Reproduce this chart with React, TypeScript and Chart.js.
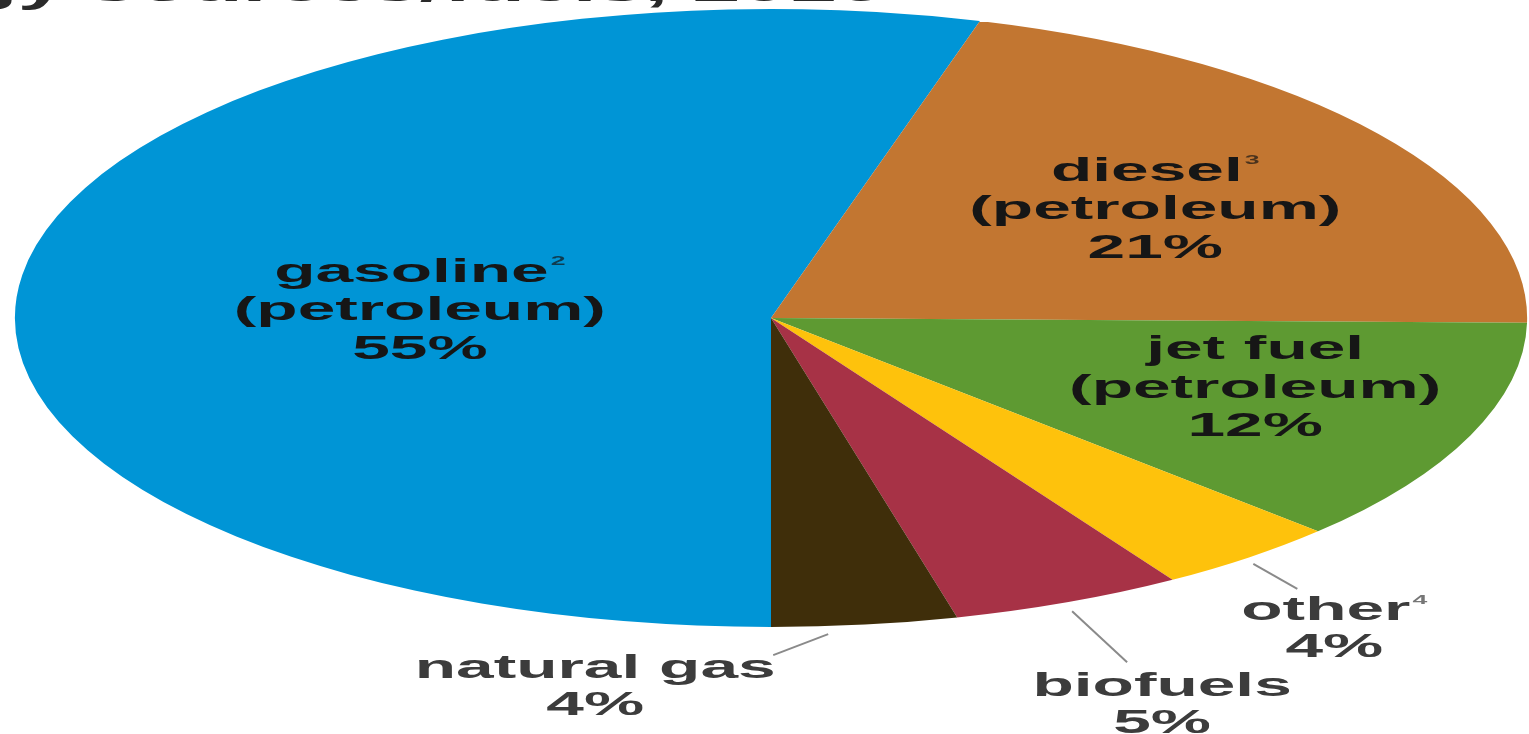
import React, { useEffect, useRef } from 'react';
import { Chart, registerables } from 'chart.js';

Chart.register(...registerables);

// ---------- data ----------
const categories = ['gasoline', 'diesel', 'jet fuel', 'other', 'biofuels', 'natural gas'];
const sharePercent = [55, 21, 12, 4, 5, 4];
const subLabels = ['(petroleum)', '(petroleum)', '(petroleum)', '', '', ''];
const footnoteMarks = ['2', '3', '', '4', '', ''];
const sliceColors = ['#0095D6', '#C27631', '#5E9A32', '#FEC20C', '#A73246', '#3F2E0A'];
const titleText = 'U.S. transportation energy sources/fuels, 2016';

// ---------- layout / style ----------
const W = 1529;
const H = 734;
const SX = 2.447; // horizontal stretch of the pie (ellipse)
const TEXT_SX = 2.05; // horizontal stretch of the text
const FONT = '"Liberation Sans", Arial, sans-serif';
const INSIDE_COLOR = '#161616';
const OUTSIDE_COLOR = '#3c3c3c';
const LEADER_COLOR = '#8a8a8a';
const LINE_GAP = 38.5;

// inside labels: radial factor k, angle nudge da (deg)
const insideLayout: Record<number, { k: number; da: number }> = {
  0: { k: 0.465, da: -5.2 },
  1: { k: 0.617, da: 2.0 },
  2: { k: 0.68, da: -2.6 },
};
// outside labels: leader start (k, da), leader end offset, text offset (first line centre)
const outsideLayout: Record<number, { k: number; da: number; end: [number, number]; text: [number, number] }> = {
  3: { k: 1.02, da: 0.5, end: [44, 25], text: [81, 47] },
  4: { k: 1.029, da: 0.4, end: [55, 51], text: [90, 76] },
  5: { k: 1.026, da: 2.9, end: [-55, 21], text: [-233, 35] },
};

function drawLabelLine(
  ctx: CanvasRenderingContext2D,
  text: string,
  sup: string,
  x: number,
  y: number,
  color: string
) {
  ctx.save();
  ctx.translate(x, y);
  ctx.scale(TEXT_SX, 1);
  ctx.textBaseline = 'middle';
  ctx.textAlign = 'left';
  ctx.font = `bold 33px ${FONT}`;
  const w = ctx.measureText(text).width;
  ctx.font = `bold 13px ${FONT}`;
  const ws = sup ? ctx.measureText(sup).width + 1 : 0;
  const x0 = -(w + ws) / 2;
  ctx.fillStyle = color;
  ctx.font = `bold 33px ${FONT}`;
  ctx.fillText(text, x0, 0);
  if (sup) {
    ctx.globalAlpha = 0.7;
    ctx.font = `bold 13px ${FONT}`;
    ctx.fillText(sup, x0 + w + 1, -11);
  }
  ctx.restore();
}

const ellipsePlugin = {
  id: 'ellipse',
  beforeDatasetsDraw(chart: any) {
    const { ctx, chartArea } = chart;
    const cx = (chartArea.left + chartArea.right) / 2;
    const cy = (chartArea.top + chartArea.bottom) / 2;
    ctx.save();
    ctx.translate(cx, cy);
    ctx.scale(SX, 1);
    ctx.translate(-cx, -cy);
  },
  afterDatasetsDraw(chart: any) {
    chart.ctx.restore();
  },
};

const labelPlugin = {
  id: 'sliceLabels',
  afterDraw(chart: any) {
    const { ctx } = chart;
    const meta = chart.getDatasetMeta(0);
    meta.data.forEach((arc: any, i: number) => {
      const p = arc.getProps(['x', 'y', 'startAngle', 'endAngle', 'outerRadius'], true);
      const mid = (p.startAngle + p.endAngle) / 2;
      const pct = `${sharePercent[i]}%`;
      if (insideLayout[i]) {
        const L = insideLayout[i];
        const a = mid + (L.da * Math.PI) / 180;
        const r = p.outerRadius * L.k;
        const x = p.x + Math.cos(a) * r * SX;
        const y = p.y + Math.sin(a) * r;
        drawLabelLine(ctx, categories[i], footnoteMarks[i], x, y - LINE_GAP, INSIDE_COLOR);
        drawLabelLine(ctx, subLabels[i], '', x, y, INSIDE_COLOR);
        drawLabelLine(ctx, pct, '', x, y + LINE_GAP, INSIDE_COLOR);
      } else if (outsideLayout[i]) {
        const L = outsideLayout[i];
        const a = mid + (L.da * Math.PI) / 180;
        const r = p.outerRadius * L.k;
        const sx = p.x + Math.cos(a) * r * SX;
        const sy = p.y + Math.sin(a) * r;
        ctx.save();
        ctx.strokeStyle = LEADER_COLOR;
        ctx.lineWidth = 2;
        ctx.beginPath();
        ctx.moveTo(sx, sy);
        ctx.lineTo(sx + L.end[0], sy + L.end[1]);
        ctx.stroke();
        ctx.restore();
        const tx = sx + L.text[0];
        const ty = sy + L.text[1];
        drawLabelLine(ctx, categories[i], footnoteMarks[i], tx, ty, OUTSIDE_COLOR);
        drawLabelLine(ctx, pct, '', tx, ty + 37, OUTSIDE_COLOR);
      }
    });

    // partially visible title at the very top
    ctx.save();
    ctx.translate(884, 1);
    ctx.scale(TEXT_SX, 1);
    ctx.font = `bold 42px ${FONT}`;
    ctx.fillStyle = '#2a2a2a';
    ctx.textAlign = 'right';
    ctx.textBaseline = 'alphabetic';
    ctx.fillText(titleText, 0, 0);
    ctx.restore();
  },
};

export default function App() {
  const canvasRef = useRef<HTMLCanvasElement>(null);

  useEffect(() => {
    if (!canvasRef.current) return;
    const chart = new Chart(canvasRef.current, {
      type: 'pie',
      data: {
        labels: categories,
        datasets: [
          {
            data: sharePercent,
            backgroundColor: sliceColors,
            borderWidth: 0,
            clip: false as any,
          },
        ],
      },
      options: {
        animation: false,
        responsive: true,
        maintainAspectRatio: false,
        events: [],
        rotation: 180,
        layout: { padding: { left: 462, right: 449, top: 9, bottom: 107 } },
        plugins: {
          legend: { display: false },
          tooltip: { enabled: false },
          title: { display: false },
        },
      },
      plugins: [ellipsePlugin, labelPlugin],
    });
    return () => chart.destroy();
  }, []);

  return (
    <div
      style={{
        position: 'fixed',
        left: 0,
        top: 0,
        width: W,
        height: H,
        background: '#ffffff',
      }}
    >
      <canvas ref={canvasRef} />
    </div>
  );
}
